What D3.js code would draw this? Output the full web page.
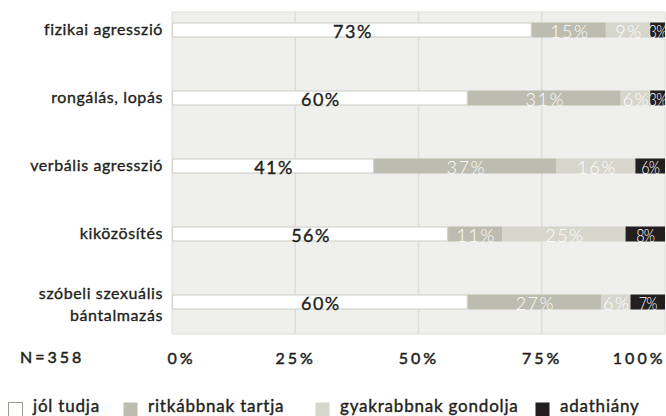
<!DOCTYPE html>
<html><head><meta charset="utf-8">
<script src="https://cdn.jsdelivr.net/npm/d3@7"></script>
<style>
html,body{margin:0;padding:0;background:#fff;}
svg{display:block;font-family:Lato,"Noto Sans",sans-serif;}
</style></head>
<body>
<script>
const categories = ["fizikai agresszió", "rongálás, lopás", "verbális agresszió", "kiközösítés", "szóbeli szexuális bántalmazás"];
const seriesNames = ["jól tudja", "ritkábbnak tartja", "gyakrabbnak gondolja", "adathiány"];
const jolTudja      = [73, 60, 41, 56, 60];
const ritkabbnak    = [15, 31, 37, 11, 27];
const gyakrabbnak   = [9, 6, 16, 25, 6];
const adathiany     = [3, 3, 6, 8, 7];
const tickValues = [0, 25, 50, 75, 100];
const tickLabels = ["0%", "25%", "50%", "75%", "100%"];
const sampleNote = "N=358";

const colors = ["#ffffff", "#bcbcb0", "#d6d6cc", "#231f20"];
const series = [jolTudja, ritkabbnak, gyakrabbnak, adathiany];
const ink = "#231f20";

const W = 666, H = 416;
const svg = d3.select("body").append("svg").attr("width", W).attr("height", H);

const x = d3.scaleLinear().domain([0, 100]).range([172, 665]);
const y = d3.scalePoint().domain(categories).range([30, 302]);
const plotTop = 12, plotBottom = 334;

// plot background
svg.append("rect").attr("x", x(0)).attr("y", plotTop)
  .attr("width", x(100) - x(0)).attr("height", plotBottom - plotTop)
  .attr("fill", "#efefed").attr("stroke", "#deded6").attr("stroke-width", 1);

// grid lines
svg.append("g").selectAll("line").data(tickValues.slice(1, -1)).join("line")
  .attr("x1", d => x(d)).attr("x2", d => x(d))
  .attr("y1", plotTop).attr("y2", plotBottom)
  .attr("stroke", "#deded6").attr("stroke-width", 1.5);

// stacked data
const rows = categories.map((c, i) => {
  let acc = 0;
  return series.map((s, k) => {
    const seg = {cat: c, k, v: s[i], x0: acc, x1: acc + s[i]};
    acc += s[i];
    return seg;
  });
}).flat();

const barH = 15;
svg.append("g").selectAll("rect").data(rows).join("rect")
  .attr("x", d => x(d.x0) + (d.k === 0 ? 0.5 : 0))
  .attr("y", d => y(d.cat) - barH / 2 + (d.k === 0 ? 0.5 : 0))
  .attr("width", d => x(d.x1) - x(d.x0) - (d.k === 0 ? 1 : 0))
  .attr("height", d => barH - (d.k === 0 ? 1 : 0))
  .attr("fill", d => colors[d.k])
  .attr("stroke", d => d.k === 0 ? "#d4d4cc" : "none")
  .attr("stroke-width", 1.2);

// value labels
svg.append("g").selectAll("text").data(rows).join("text")
  .attr("x", d => (x(d.x0) + x(d.x1)) / 2 + (d.k === 3 ? 0 : 1))
  .attr("y", d => y(d.cat) + 8)
  .attr("text-anchor", "middle")
  .attr("font-size", 18)
  .attr("font-weight", d => d.k === 0 ? 400 : 300)
  .attr("letter-spacing", d => d.k === 3 ? -1 : 1.5)
  .attr("fill", d => d.k === 0 ? ink : "#ffffff")
  .attr("stroke", d => d.k === 0 ? ink : "none")
  .attr("stroke-width", 0.4)
  .attr("transform", d => d.k === 3 ? `translate(${(x(d.x0) + x(d.x1)) / 2},0) scale(0.8,1) translate(${-(x(d.x0) + x(d.x1)) / 2},0)` : null)
  .text(d => d.v + "%");

// category labels
const catG = svg.append("g").attr("font-size", 16).attr("fill", ink)
  .attr("stroke", ink).attr("stroke-width", 0.35).attr("letter-spacing", 0.6);
categories.forEach(c => {
  const words = c === "szóbeli szexuális bántalmazás" ? ["szóbeli szexuális", "bántalmazás"] : [c];
  const t = catG.append("text").attr("text-anchor", "end");
  if (words.length === 1) {
    t.append("tspan").attr("x", 163).attr("y", y(c) + 5).text(words[0]);
  } else {
    t.append("tspan").attr("x", 163).attr("y", y(c) - 3).text(words[0]);
    t.append("tspan").attr("x", 163).attr("y", y(c) + 19).text(words[1]);
  }
});

// x axis
const axis = d3.axisBottom(x).tickValues(tickValues).tickSize(0)
  .tickFormat((d, i) => tickLabels[i]);
const ax = svg.append("g").attr("transform", "translate(0,350)").call(axis);
ax.select(".domain").remove();
ax.selectAll("text")
  .attr("font-family", "Lato, sans-serif")
  .attr("font-size", 16).attr("font-weight", 400)
  .attr("stroke", ink).attr("stroke-width", 0.5)
  .attr("letter-spacing", 3).attr("fill", ink).attr("dy", "0.71em");
ax.selectAll(".tick").filter(d => d === 0).select("text").attr("dx", 9);
ax.selectAll(".tick").filter(d => d === 100).select("text").attr("text-anchor", "end").attr("dx", 0);

svg.append("text").attr("x", 20).attr("y", 363)
  .attr("font-size", 16).attr("font-weight", 400).attr("letter-spacing", 3)
  .attr("stroke", ink).attr("stroke-width", 0.5)
  .attr("fill", ink).text(sampleNote);

// legend
const legendX = [8, 123, 315, 535];
const lg = svg.append("g");
seriesNames.forEach((n, k) => {
  lg.append("rect").attr("x", legendX[k] + 0.5).attr("y", 402.5).attr("width", 14).attr("height", 14)
    .attr("fill", colors[k]).attr("stroke", k === 0 ? "#9a9a90" : "none");
  lg.append("text").attr("x", legendX[k] + 25).attr("y", 412)
    .attr("font-size", 17).attr("letter-spacing", 0.8)
    .attr("stroke", ink).attr("stroke-width", 0.4)
    .attr("fill", ink).text(n);
});
</script>
</body></html>
